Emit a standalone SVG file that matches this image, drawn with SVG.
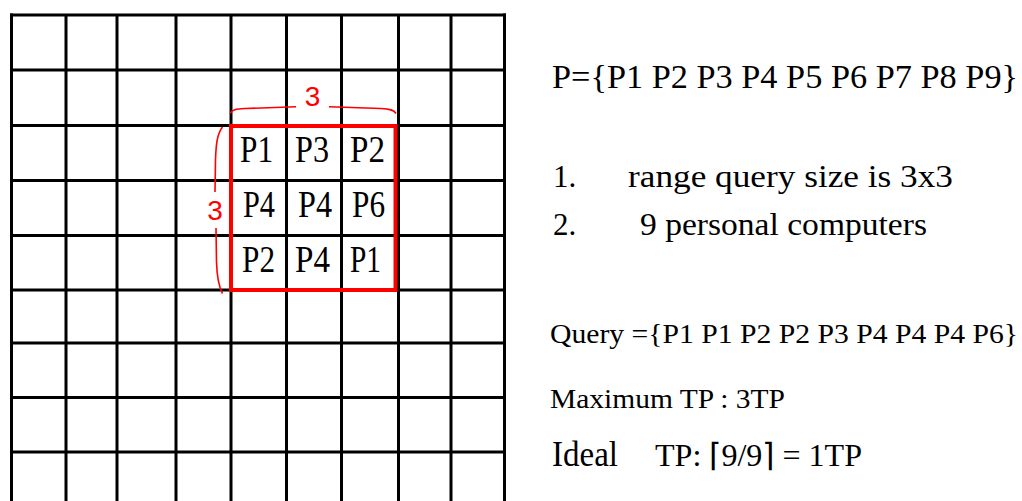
<svg xmlns="http://www.w3.org/2000/svg" width="1022" height="501" viewBox="0 0 1022 501">
<style>
.g{stroke:#000;stroke-width:3;fill:none}
.cell{font-family:"Liberation Serif","Times New Roman",serif;font-size:37px;fill:#000}
.rt{font-family:"Liberation Serif","Times New Roman",serif;fill:#000}
.red{fill:#ff0000;font-family:"Liberation Sans",Arial,sans-serif;font-size:28px}
.br{stroke:#ff0000;stroke-width:1.6;fill:none}
</style>
<rect width="1022" height="501" fill="#fff"/>
<g id="grid" class="g">
<path d="M10,15H506M10,70H506M10,125.5H506M10,180.5H506M10,235.5H506M10,290H506M10,343H506M10,397.5H506M10,452H506"/>
<path d="M11.5,13.5V501M66,15V501M117,15V501M176,15V501M231,15V501M286.5,15V501M341.5,15V501M398.5,15V501M451,15V501M504.5,13.5V501"/>
</g>
<g id="query-box">
<rect x="231" y="126" width="164.5" height="164" fill="none" stroke="#ff0000" stroke-width="4"/>
</g>
<g id="cells">
<text class="cell" x="240" y="162" textLength="33" lengthAdjust="spacingAndGlyphs">P1</text>
<text class="cell" x="295" y="162" textLength="34" lengthAdjust="spacingAndGlyphs">P3</text>
<text class="cell" x="350" y="162" textLength="35" lengthAdjust="spacingAndGlyphs">P2</text>
<text class="cell" x="243" y="217" textLength="32" lengthAdjust="spacingAndGlyphs">P4</text>
<text class="cell" x="298" y="217" textLength="34" lengthAdjust="spacingAndGlyphs">P4</text>
<text class="cell" x="352" y="217" textLength="33" lengthAdjust="spacingAndGlyphs">P6</text>
<text class="cell" x="242" y="272" textLength="33" lengthAdjust="spacingAndGlyphs">P2</text>
<text class="cell" x="295" y="272" textLength="35" lengthAdjust="spacingAndGlyphs">P4</text>
<text class="cell" x="350" y="272" textLength="31" lengthAdjust="spacingAndGlyphs">P1</text>
</g>
<g id="braces">
<path class="br" d="M230,113.5 C232,109.5 236,109 245,108.5 L296,106.8"/>
<path class="br" d="M329,106.8 L381,108.5 C390,109 394,110 396,113.5"/>
<path class="br" d="M222.5,127 C217,134 216,145 215.5,160 L215,192"/>
<path class="br" d="M216,228 L216.5,262 C217,278 219,287 222.5,293.5"/>
<text class="red" x="312.5" y="106" text-anchor="middle">3</text>
<text class="red" x="215" y="220" text-anchor="middle">3</text>
</g>
<g id="notes">
<text class="rt" x="552" y="88" font-size="33" textLength="466" lengthAdjust="spacingAndGlyphs">P={P1 P2 P3 P4 P5 P6 P7 P8 P9}</text>
<text class="rt" x="553" y="187" font-size="31">1.</text>
<text class="rt" x="628" y="187" font-size="31" textLength="325" lengthAdjust="spacingAndGlyphs">range query size is 3x3</text>
<text class="rt" x="553" y="235" font-size="31">2.</text>
<text class="rt" x="640" y="235" font-size="31" textLength="287" lengthAdjust="spacingAndGlyphs">9 personal computers</text>
<text class="rt" x="550" y="343" font-size="27" textLength="468" lengthAdjust="spacingAndGlyphs">Query ={P1 P1 P2 P2 P3 P4 P4 P4 P6}</text>
<text class="rt" x="550" y="408" font-size="28" textLength="235" lengthAdjust="spacingAndGlyphs">Maximum TP : 3TP</text>
<text class="rt" x="552" y="466" font-size="35" textLength="66" lengthAdjust="spacingAndGlyphs">Ideal</text>
<text class="rt" x="655" y="466" font-size="32" textLength="207" lengthAdjust="spacingAndGlyphs">TP: ⌈9/9⌉ = 1TP</text>
</g>
</svg>
